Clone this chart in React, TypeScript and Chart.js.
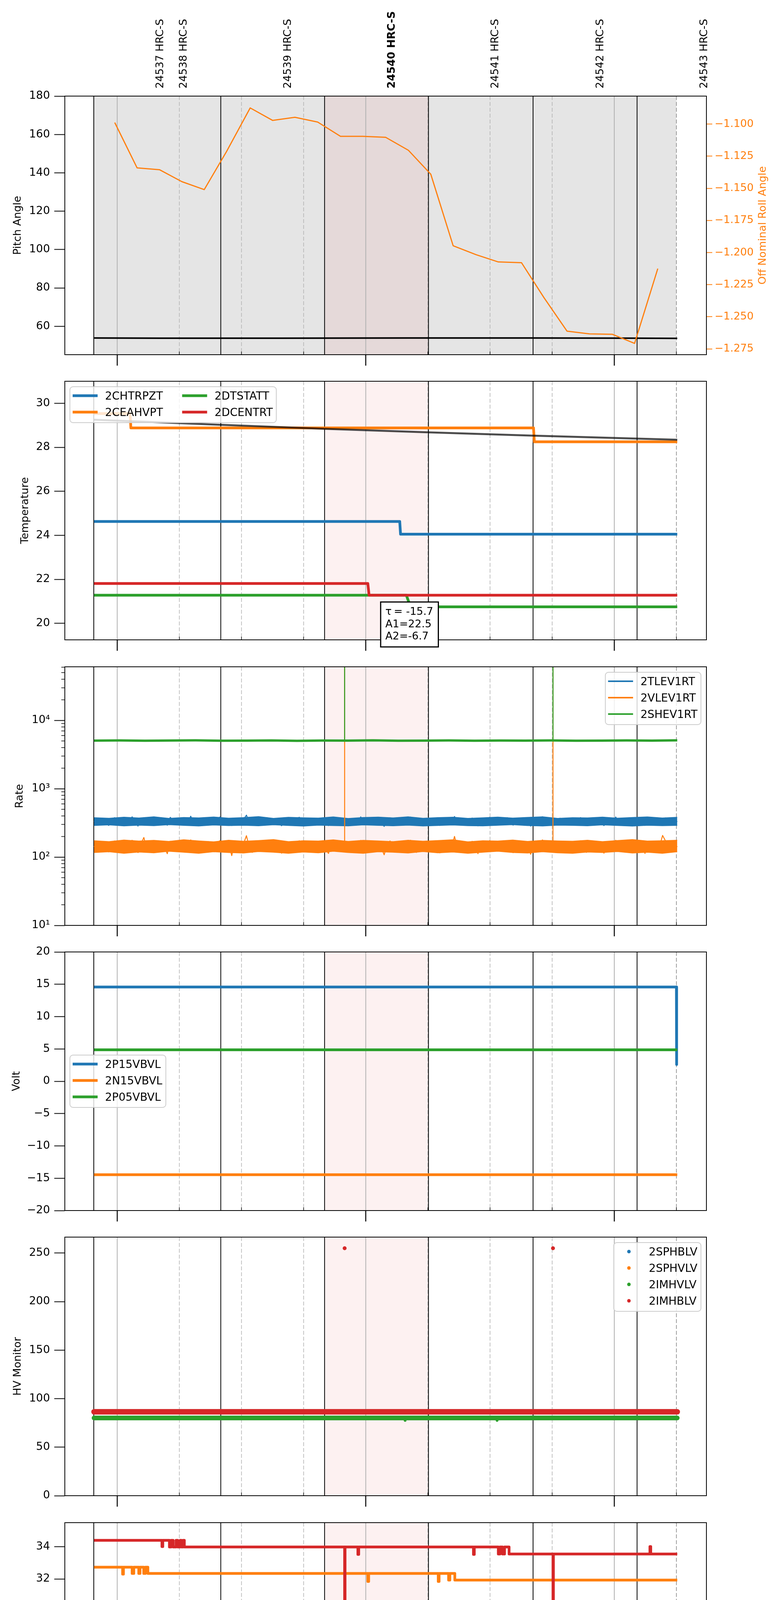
import { useEffect, useRef } from 'react';
import Chart from 'chart.js/auto';

const FONT = 'DejaVu Sans';
const BLUE = '#1f77b4';
const ORANGE = '#ff7f0e';
const GREEN = '#2ca02c';
const RED = '#d62728';

// ---- time axis (minutes after 15:00, 2021-04-04) ----
const X_MIN = -12.65;
const X_MAX = 142.24;
const HOUR_TICKS = [0, 60, 120];
const HOUR_LABELS = ['15h', '16h', '17h'];
const QUARTER_TICKS = [15, 30, 45, 75, 90, 105, 135];
const QUARTER_LABELS = ['15', '30', '45', '15', '30', '45', '15'];
const DATE_LABEL = '2021-04-04 (094)';

// ---- observations ----
const OBSID_LABELS = ['24537 HRC-S', '24538 HRC-S', '24539 HRC-S', '24540 HRC-S', '24541 HRC-S', '24542 HRC-S', '24543 HRC-S'];
const OBSID_LABEL_TIMES = [10.2, 15.8, 41.0, 66.1, 91.1, 116.4, 141.5];
const CURRENT_OBSID = '24540 HRC-S';
const OBSID_STARTS = [-5.66, 25.0, 50.06, 75.14, 100.39, 125.5];
const CURRENT_SPAN = [50.06, 75.14];
const SCHEDULE_SPAN = [-5.66, 135.0];

// ---- panel 1: pitch / roll ----
const PITCH_T = [-5.6, 10, 40, 70, 100, 125.5, 135.2];
const PITCH = [53.9, 53.8, 53.8, 53.9, 53.9, 53.8, 53.7];
const PITCH_TICKS = [60, 80, 100, 120, 140, 160, 180];
const ROLL_T = [-0.6, 4.8, 10.2, 15.6, 21.0, 26.4, 32.1, 37.5, 42.9, 48.4, 53.9, 59.3, 64.8, 70.3, 75.7, 81.1, 86.6, 92.0, 97.6, 103.0, 108.6, 114.0, 119.5, 124.9, 130.5];
const ROLL = [-1.0988, -1.1341, -1.1355, -1.1448, -1.151, -1.1213, -1.0874, -1.0971, -1.0947, -1.0984, -1.1095, -1.1095, -1.1103, -1.1204, -1.139, -1.1947, -1.2016, -1.2073, -1.2079, -1.235, -1.2612, -1.2633, -1.2636, -1.2707, -1.2125];
const ROLL_TICKS = [-1.275, -1.25, -1.225, -1.2, -1.175, -1.15, -1.125, -1.1];

// ---- panel 2: temperature ----
const CHTRPZT_T = [-5.6, 68.2, 68.4, 135.2];
const CHTRPZT = [24.63, 24.63, 24.05, 24.05];
const CEAHVPT_T = [-5.6, 3.1, 3.3, 100.5, 100.7, 135.2];
const CEAHVPT = [29.53, 29.53, 28.88, 28.88, 28.25, 28.25];
const DTSTATT_T = [-5.6, 69.8, 70.8, 135.2];
const DTSTATT = [21.28, 21.28, 20.75, 20.75];
const DCENTRT_T = [-5.6, 60.5, 60.8, 135.2];
const DCENTRT = [21.81, 21.81, 21.28, 21.28];
const FIT_T = [-5.6, 25, 50, 75, 100.4, 135.2];
const FIT = [29.25, 29.02, 28.84, 28.68, 28.53, 28.34];
const FIT_TEXT = ['\u03c4\u2009= -15.7', 'A1=22.5', 'A2=-6.7'];
const FIT_BOX_AT = [70.56, 20.97];
const TEMP_TICKS = [20, 22, 24, 26, 28, 30];

// ---- panel 3: rates (regular samples between RATE_T0 and RATE_T1) ----
const RATE_T0 = -5.6;
const RATE_T1 = 135.2;
const TLEV1RT = [
  330, 352, 301, 368, 315, 290, 344, 377, 322, 298, 361, 335, 309, 388, 327, 284, 349, 366, 318, 296,
  372, 338, 305, 357, 329, 292, 381, 344, 312, 335, 364, 301, 326, 395, 319, 288, 353, 341, 307, 370,
  333, 296, 359, 386, 314, 325, 348, 290, 367, 339, 302, 355, 410, 321, 293, 346, 362, 310, 331, 378,
  299, 342, 357, 316, 287, 369, 334, 305, 351, 327, 383, 312, 296, 345, 365, 322, 301, 338, 374, 309,
  289, 356, 331, 347, 304, 371, 326, 293, 362, 340, 315, 387, 328, 298, 353, 336, 308, 366, 321, 281,
  349, 375, 313, 331, 297, 360, 343, 306, 384, 325, 291, 354, 338, 317, 369, 302, 333, 358, 290, 347,
  363, 311, 329, 392, 318, 295, 350, 336, 304, 372, 341, 286, 356, 327, 314, 381, 332, 299, 361, 345,
  308, 376, 320, 293, 352, 339, 306, 367, 328, 284, 358, 342, 315, 389, 326, 300, 355, 334, 310, 370,
  337, 297, 362, 319, 346, 303, 378, 330, 292, 357, 341, 312, 364, 323, 288, 351, 336, 307, 385, 329,
  296, 359, 344, 316, 371, 302, 333, 348, 290, 366, 327, 311, 354, 339, 301, 374, 320, 345, 305, 335,
];
// dense core of the 2TLEV1RT band
const TLEV1RT_HI = [378, 371, 384, 374, 389, 369, 381, 376, 387, 372, 379, 392, 370, 383, 377, 373, 388, 368, 380, 385, 375, 390, 371, 379, 384, 369, 377, 386, 373, 382, 389, 370, 378, 376, 386, 372, 381, 388, 374, 383];
const TLEV1RT_LO = [289, 294, 285, 292, 287, 296, 290, 284, 293, 288, 291, 286, 295, 289, 283, 292, 288, 285, 294, 290, 286, 292, 284, 289, 293, 287, 285, 291, 296, 288, 284, 292, 290, 286, 294, 289, 283, 291, 287, 290];
const VLEV1RT = [
  141, 158, 126, 167, 133, 119, 150, 172, 138, 124, 161, 145, 129, 176, 140, 116, 155, 193, 134, 121,
  165, 147, 128, 159, 139, 112, 170, 151, 131, 144, 166, 123, 137, 178, 135, 118, 157, 148, 127, 168,
  142, 120, 160, 174, 132, 136, 152, 105, 169, 146, 125, 156, 205, 139, 117, 149, 163, 130, 143, 171,
  122, 150, 158, 134, 114, 166, 141, 128, 154, 137, 173, 131, 119, 148, 165, 138, 124, 145, 169, 129,
  113, 157, 140, 151, 126, 168, 136, 121, 162, 146, 133, 175, 139, 118, 155, 143, 127, 164, 137, 108,
  150, 172, 132, 141, 120, 160, 147, 128, 176, 136, 117, 156, 144, 134, 167, 123, 142, 159, 115, 149,
  163, 130, 140, 200, 135, 119, 153, 145, 126, 170, 148, 112, 158, 138, 131, 174, 141, 122, 162, 150,
  129, 171, 137, 116, 155, 146, 127, 166, 139, 110, 160, 147, 133, 178, 136, 124, 157, 142, 130, 168,
  145, 119, 162, 134, 151, 125, 173, 140, 117, 158, 148, 131, 165, 137, 114, 154, 143, 128, 176, 139,
  120, 161, 149, 133, 170, 123, 141, 152, 113, 167, 138, 130, 156, 146, 207, 172, 134, 150, 127, 144,
];
// dense core of the 2VLEV1RT band
const VLEV1RT_HI = [174, 169, 178, 172, 176, 170, 180, 173, 168, 177, 171, 175, 181, 169, 174, 172, 179, 170, 176, 173, 169, 177, 171, 175, 180, 168, 174, 172, 178, 170, 176, 173, 171, 177, 169, 175, 181, 172, 174, 177];
const VLEV1RT_LO = [116, 119, 113, 118, 115, 121, 117, 113, 119, 116, 114, 120, 117, 113, 118, 115, 121, 116, 113, 119, 117, 114, 120, 115, 118, 113, 117, 121, 116, 114, 119, 115, 113, 118, 116, 120, 114, 117, 113, 119];
const SHEV1RT = [5050, 5080, 5030, 5070, 5100, 5040, 5060, 5090, 5020, 5070, 5050, 5110, 5040, 5060, 5080, 5030, 5070, 5050, 5090, 5040, 5060, 5080, 5050, 5100];
const RATE_SPIKE_T = [54.9, 105.2];
const RATE_SPIKE_TOP = 65000;
const RATE_TICKS = [10, 100, 1000, 10000];
const RATE_TICK_LABELS = ['10\u00b9', '10\u00b2', '10\u00b3', '10\u2074'];

// ---- panel 4: volts ----
const P15VBVL_T = [-5.6, 135.0, 135.05];
const P15VBVL = [14.57, 14.57, 2.6];
const N15VBVL_T = [-5.6, 135.2];
const N15VBVL = [-14.46, -14.46];
const P05VBVL_T = [-5.6, 135.2];
const P05VBVL = [4.86, 4.86];
const VOLT_TICKS = [-20, -15, -10, -5, 0, 5, 10, 15, 20];

// ---- panel 5: HV monitor ----
const HV_T = [-5.6, 135.2];
const SPHBLV = [86.4, 86.4];
const SPHVLV = [86.4, 86.4];
const IMHVLV = [80.1, 80.1];
const IMHBLV = [86.4, 86.4];
const IMHVLV_OUT_T = [69.5, 91.7];
const IMHVLV_OUT = [77.6, 77.6];
const IMHBLV_OUT_T = [54.9, 105.2];
const IMHBLV_OUT = [254.9, 254.9];
const HV_TICKS = [0, 50, 100, 150, 200, 250];

// ---- panel 6: detector temps (each value holds until the next time) ----
const SPINATM_T = [-5.6, 94.6, 94.8, 98.9, 99.4, 99.8, 100.6, 101.0, 101.6, 102.0, 102.8, 103.3, 135.2];
const SPINATM = [20.99, 20.3, 20.99, 20.3, 20.99, 20.3, 20.99, 20.3, 20.99, 20.3, 20.99, 20.3, 20.3];
const SPHVATM_T = [-5.6, 1.3, 1.5, 3.6, 4.0, 5.2, 5.5, 6.4, 6.8, 7.4, 60.5, 60.7, 77.5, 77.7, 80.0, 80.3, 81.5, 135.2];
const SPHVATM = [32.73, 32.3, 32.73, 32.34, 32.73, 32.34, 32.73, 32.34, 32.73, 32.34, 31.85, 32.34, 31.85, 32.34, 31.93, 32.34, 31.93, 31.93];
const IMINATM_T = [-5.6, 64.1, 64.6, 65.8, 66.0, 66.7, 135.2];
const IMINATM = [21.71, 20.99, 21.71, 20.99, 21.71, 20.99, 20.99];
const IMHVATM_T = [-5.6, 10.8, 11.0, 12.6, 13.0, 13.5, 14.2, 14.6, 15.2, 15.5, 15.9, 16.2, 54.9, 55.0, 58.1, 58.3, 86.0, 86.2, 92.0, 92.4, 93.0, 93.5, 94.6, 105.2, 105.3, 128.6, 128.8, 135.2];
const IMHVATM = [34.39, 34.0, 34.39, 33.98, 34.39, 33.98, 34.39, 33.98, 34.39, 33.98, 34.39, 33.98, 10, 33.98, 33.52, 33.98, 33.52, 33.98, 33.54, 33.98, 33.54, 33.98, 33.54, 10, 33.54, 34.0, 33.54, 33.54];
const DET_TICKS = [20, 22, 24, 26, 28, 30, 32, 34];

// ---- panel 7: FEA temps (each value holds until the next time) ----
const FHTRMZT_T = [-5.6, 68.9, 69.2, 69.8, 70.1, 70.9, 135.2];
const FHTRMZT = [22.36, 21.81, 22.36, 21.81, 22.36, 21.81, 21.81];
const FRADPYT_T = [-5.6, 28.6, 125.0, 135.2];
const FRADPYT = [17.16, 16.69, 16.2, 16.2];
const FEPRATM_T = [-5.6, 3.2, 3.5, 4.2, 4.5, 5.1, 5.4, 5.75, 54.9, 55.0, 105.2, 105.3, 135.2];
const FEPRATM = [24.63, 23.87, 24.63, 23.87, 24.63, 23.87, 24.63, 23.87, 22.05, 23.87, 22.05, 23.87, 23.87];
const FE00ATM_T = [-5.6, 20.3, 20.5, 28.6, 28.8, 34.8, 35.0, 38.5, 39.0, 39.6, 40.2, 41.0, 45.7, 45.9, 46.5, 46.7, 50.0, 50.2, 54.9, 55.0, 67.8, 68.0, 68.6, 68.8, 69.2, 69.4, 87.5, 87.7, 89.0, 89.2, 105.2, 105.3, 109.4, 110.0, 110.5, 111.2, 112.2, 116.4, 116.6, 129.7, 129.9, 135.2];
const FE00ATM = [22.32, 21.95, 22.32, 22.7, 22.32, 22.7, 22.32, 22.02, 22.32, 22.02, 22.32, 22.02, 23.34, 22.02, 22.35, 22.02, 22.35, 22.02, 10, 22.02, 21.37, 22.02, 22.4, 22.02, 21.65, 22.02, 21.65, 22.02, 21.65, 22.02, 10, 22.02, 21.72, 22.02, 21.72, 22.02, 21.72, 22.4, 21.72, 22.05, 21.72, 21.72];
const FEA_TICKS = [16, 18, 20, 22, 24];

// ---- page layout ----
const PAGE_W = 2000;
const PAGE_H = 5400;
const PANEL_TOPS = [246, 976, 1707, 2437, 3167, 3898, 4628];
const PANEL_H = 662;
const PLOT_LEFT = 166;
const PLOT_RIGHT = 1809;

const geom = (k: number) => {
  const top = PANEL_TOPS[k];
  const cTop = k === 0 ? 0 : top - 60;
  const padT = top - cTop;
  const padB = k === PANEL_TOPS.length - 1 ? PAGE_H - top - PANEL_H : 72;
  return { cTop, padT, padB, h: padT + PANEL_H + padB };
};

const minus = (v: number) => (v < 0 ? '\u2212' + String(-v) : String(v));

const line = (label: string, color: string, times: number[], values: number[], width: number, extra: any = {}) => ({
  label,
  data: times.map((t, i) => ({ x: t, y: values[i] })),
  borderColor: color,
  backgroundColor: color,
  borderWidth: width,
  pointRadius: 0,
  borderJoinStyle: 'round',
  clip: 0,
  ...extra,
});

const spikes = (label: string, color: string, times: number[], base: number, top: number, width: number) => ({
  label,
  data: times.flatMap((t) => [{ x: t, y: base }, { x: t, y: top }, { x: t, y: null }]),
  borderColor: color,
  borderWidth: width,
  pointRadius: 0,
  spanGaps: false,
  clip: 0,
});

const dots = (label: string, color: string, times: number[], values: number[], r: number) => ({
  label,
  data: times.map((t, i) => ({ x: t, y: values[i] })),
  showLine: false,
  pointRadius: r,
  pointBorderWidth: 0,
  pointBackgroundColor: color,
  borderColor: color,
  backgroundColor: color,
  clip: 0,
});

const sampleTimes = (n: number) => Array.from({ length: n }, (_, i) => RATE_T0 + (i * (RATE_T1 - RATE_T0)) / (n - 1));

const yAxis = (o: any) => ({
  type: o.type || 'linear',
  position: 'left',
  min: o.min,
  max: o.max,
  afterFit: (s: any) => { s.width = PLOT_LEFT; },
  afterBuildTicks: (s: any) => { s.ticks = o.ticks.map((v: number) => ({ value: v })); },
  ticks: { color: '#000', font: { family: FONT, size: 28 }, padding: 11, autoSkip: false, callback: o.fmt || ((v: number) => minus(v)) },
  grid: { drawOnChartArea: false, drawTicks: true, tickLength: 27, tickWidth: 2, tickColor: '#000' },
  border: { display: false },
  title: { display: true, text: o.title, color: '#000', font: { family: FONT, size: 27 }, padding: { top: o.titlePad, bottom: 0 } },
});

type LegendItem = { label: string; color: string; dot?: boolean };
type LegendSpec = { items: LegendItem[]; cols: number; side: 'left' | 'right'; valign: 'top' | 'center'; lw: number };

function drawLegend(ctx: CanvasRenderingContext2D, a: any, spec: LegendSpec) {
  const HANDLE = 64, PADL = 7, GAP = 19, PADR = 9, COLSEP = 49, ROWH = 42, FS = 28;
  ctx.font = `${FS}px "${FONT}"`;
  const rows = Math.ceil(spec.items.length / spec.cols);
  const colW: number[] = [];
  for (let c = 0; c < spec.cols; c++) {
    const its = spec.items.slice(c * rows, (c + 1) * rows);
    colW.push(Math.max(...its.map((it) => ctx.measureText(it.label).width)));
  }
  const width = PADL + colW.reduce((s, w) => s + HANDLE + GAP + w, 0) + (spec.cols - 1) * COLSEP + PADR;
  const height = 50 + (rows - 1) * ROWH;
  const left = spec.side === 'left' ? a.left + 13 : a.right - 14 - width;
  const top = spec.valign === 'top' ? a.top + 14 : (a.top + a.bottom - height) / 2;
  ctx.beginPath();
  ctx.roundRect(left, top, width, height, 8);
  ctx.fillStyle = 'rgba(255,255,255,0.8)';
  ctx.fill();
  ctx.strokeStyle = '#cccccc';
  ctx.lineWidth = 2;
  ctx.stroke();
  let cx = left + PADL;
  for (let c = 0; c < spec.cols; c++) {
    for (let r = 0; r < rows; r++) {
      const it = spec.items[c * rows + r];
      if (!it) continue;
      const y = top + 23 + r * ROWH;
      if (it.dot) {
        ctx.beginPath();
        ctx.arc(cx + HANDLE / 2, y, 4.5, 0, Math.PI * 2);
        ctx.fillStyle = it.color;
        ctx.fill();
      } else {
        ctx.beginPath();
        ctx.moveTo(cx, y);
        ctx.lineTo(cx + HANDLE, y);
        ctx.strokeStyle = it.color;
        ctx.lineWidth = spec.lw;
        ctx.lineCap = 'butt';
        ctx.stroke();
      }
      ctx.fillStyle = '#000';
      ctx.textAlign = 'left';
      ctx.textBaseline = 'alphabetic';
      ctx.fillText(it.label, cx + HANDLE + GAP, y + 0.365 * FS);
    }
    cx += HANDLE + GAP + colW[c] + COLSEP;
  }
}

function makeDecor(k: number, legend: LegendSpec | null) {
  const last = PANEL_TOPS.length - 1;
  return {
    id: 'decor' + k,
    beforeDatasetsDraw(chart: any) {
      const { ctx, chartArea: a } = chart;
      const px = (t: number) => chart.scales.x.getPixelForValue(t);
      ctx.save();
      ctx.beginPath();
      ctx.rect(a.left, a.top, a.right - a.left, a.bottom - a.top);
      ctx.clip();
      if (k === 0) {
        ctx.fillStyle = 'rgba(0,0,0,0.1)';
        ctx.fillRect(px(SCHEDULE_SPAN[0]), a.top, px(SCHEDULE_SPAN[1]) - px(SCHEDULE_SPAN[0]), a.bottom - a.top);
      }
      ctx.fillStyle = 'rgba(230,60,60,0.07)';
      ctx.fillRect(px(CURRENT_SPAN[0]), a.top, px(CURRENT_SPAN[1]) - px(CURRENT_SPAN[0]), a.bottom - a.top);
      const vline = (t: number, color: string, w: number, dash: number[]) => {
        ctx.beginPath();
        ctx.setLineDash(dash);
        ctx.strokeStyle = color;
        ctx.lineWidth = w;
        ctx.moveTo(px(t), a.top);
        ctx.lineTo(px(t), a.bottom);
        ctx.stroke();
      };
      HOUR_TICKS.forEach((t) => vline(t, '#b0b0b0', 2, []));
      QUARTER_TICKS.forEach((t) => vline(t, t === 135 ? '#808080' : '#b0b0b0', 1.5, [10, 5]));
      OBSID_STARTS.forEach((t) => vline(t, '#000', 2, []));
      ctx.restore();
    },
    afterDatasetsDraw(chart: any) {
      const { ctx, chartArea: a } = chart;
      const px = (t: number) => chart.scales.x.getPixelForValue(t);
      ctx.save();
      ctx.setLineDash([]);
      // frame
      ctx.strokeStyle = '#000';
      ctx.lineWidth = 2;
      ctx.strokeRect(a.left, a.top, a.right - a.left, a.bottom - a.top);
      // time ticks
      ctx.beginPath();
      ctx.lineWidth = 2.5;
      HOUR_TICKS.forEach((t) => { ctx.moveTo(px(t), a.bottom); ctx.lineTo(px(t), a.bottom + 28); });
      ctx.stroke();
      ctx.beginPath();
      ctx.lineWidth = 1.5;
      QUARTER_TICKS.forEach((t) => { ctx.moveTo(px(t), a.bottom); ctx.lineTo(px(t), a.bottom - 8); });
      ctx.stroke();
      ctx.fillStyle = '#000';
      ctx.textBaseline = 'alphabetic';
      if (k === last) {
        ctx.textAlign = 'center';
        ctx.font = `17px "${FONT}"`;
        QUARTER_TICKS.forEach((t, i) => ctx.fillText(QUARTER_LABELS[i], px(t), a.bottom + 22));
        ctx.font = `29px "${FONT}"`;
        HOUR_TICKS.forEach((t, i) => ctx.fillText(HOUR_LABELS[i], px(t), a.bottom + 60));
        ctx.font = `33px "${FONT}"`;
        ctx.fillText(DATE_LABEL, (a.left + a.right) / 2, a.bottom + 100);
      }
      if (k === 0) {
        OBSID_LABELS.forEach((lab, i) => {
          ctx.save();
          ctx.translate(px(OBSID_LABEL_TIMES[i]), a.top - 19.6);
          ctx.rotate(-Math.PI / 2);
          ctx.font = `${lab === CURRENT_OBSID ? 'bold ' : ''}27px "${FONT}"`;
          ctx.textAlign = 'left';
          ctx.fillStyle = '#000';
          ctx.fillText(lab, 0, 0.365 * 27);
          ctx.restore();
        });
        ctx.save();
        ctx.translate(1954, (a.top + a.bottom) / 2);
        ctx.rotate(-Math.PI / 2);
        ctx.font = `27px "${FONT}"`;
        ctx.textAlign = 'center';
        ctx.textBaseline = 'middle';
        ctx.fillStyle = ORANGE;
        ctx.fillText('Off Nominal Roll Angle', 0, 0);
        ctx.restore();
      }
      if (k === 2) {
        const y = chart.scales.y;
        ctx.beginPath();
        ctx.lineWidth = 1.5;
        for (let d = 1; d <= 4; d++) {
          for (let m = 2; m <= 9; m++) {
            const v = m * Math.pow(10, d);
            if (v > y.max) continue;
            const py = y.getPixelForValue(v);
            ctx.moveTo(a.left - 9, py);
            ctx.lineTo(a.left, py);
          }
        }
        ctx.stroke();
      }
      if (k === 1) {
        const fs = 27;
        ctx.font = `${fs}px "${FONT}"`;
        const tw = Math.max(...FIT_TEXT.map((s) => ctx.measureText(s).width));
        const w = tw + 25;
        const h = 115;
        const bx = px(FIT_BOX_AT[0]) - w / 2;
        const by = chart.scales.y.getPixelForValue(FIT_BOX_AT[1]);
        ctx.fillStyle = '#fff';
        ctx.fillRect(bx, by, w, h);
        ctx.strokeStyle = '#000';
        ctx.lineWidth = 3;
        ctx.strokeRect(bx, by, w, h);
        ctx.fillStyle = '#000';
        ctx.textAlign = 'left';
        FIT_TEXT.forEach((s, i) => ctx.fillText(s, bx + 12, by + 33 + i * 31.7));
      }
      if (legend) drawLegend(ctx, a, legend);
      ctx.restore();
    },
  };
}

function config(k: number, datasets: any[], scales: any, legend: LegendSpec | null) {
  const g = geom(k);
  return {
    type: 'line',
    data: { datasets: datasets.map((d, i) => ({ fill: false, ...d, order: -i })) },
    options: {
      animation: false,
      responsive: false,
      devicePixelRatio: 1,
      events: [],
      layout: { padding: { top: g.padT, bottom: g.padB, left: 0, right: scales.y2 ? 0 : PAGE_W - PLOT_RIGHT } },
      plugins: { legend: { display: false }, tooltip: { enabled: false } },
      scales: { x: { type: 'linear', min: X_MIN, max: X_MAX, display: false }, ...scales },
    },
    plugins: [makeDecor(k, legend)],
  };
}

const BUILDERS = [
  (k: number) =>
    config(
      k,
      [
        line('Pitch', '#000', PITCH_T, PITCH, 4),
        line('Roll', ORANGE, ROLL_T, ROLL, 3, { yAxisID: 'y2' }),
      ],
      {
        y: yAxis({ min: 45.2, max: 180, ticks: PITCH_TICKS, title: 'Pitch Angle', titlePad: 30 }),
        y2: {
          type: 'linear',
          position: 'right',
          min: -1.2795,
          max: -1.0782,
          afterFit: (s: any) => { s.width = PAGE_W - PLOT_RIGHT; },
          afterBuildTicks: (s: any) => { s.ticks = ROLL_TICKS.map((v) => ({ value: v })); },
          ticks: { color: ORANGE, font: { family: FONT, size: 27 }, padding: 6, autoSkip: false, callback: (v: number) => '\u2212' + (-v).toFixed(3) },
          grid: { drawOnChartArea: false, drawTicks: true, tickLength: 15, tickWidth: 2, tickColor: ORANGE },
          border: { display: false },
        },
      },
      null,
    ),
  (k: number) =>
    config(
      k,
      [
        line('2CHTRPZT', BLUE, CHTRPZT_T, CHTRPZT, 7),
        line('2CEAHVPT', ORANGE, CEAHVPT_T, CEAHVPT, 7),
        line('2DTSTATT', GREEN, DTSTATT_T, DTSTATT, 7),
        line('2DCENTRT', RED, DCENTRT_T, DCENTRT, 7),
        line('fit', 'rgba(0,0,0,0.7)', FIT_T, FIT, 5),
      ],
      { y: yAxis({ min: 19.25, max: 31.0, ticks: TEMP_TICKS, title: 'Temperature', titlePad: 49 }) },
      {
        items: [
          { label: '2CHTRPZT', color: BLUE },
          { label: '2CEAHVPT', color: ORANGE },
          { label: '2DTSTATT', color: GREEN },
          { label: '2DCENTRT', color: RED },
        ],
        cols: 2, side: 'left', valign: 'top', lw: 7,
      },
    ),
  (k: number) =>
    config(
      k,
      [
        line('2TLEV1RT hi', BLUE, sampleTimes(TLEV1RT_HI.length), TLEV1RT_HI, 1.5, { fill: '+1' }),
        line('2TLEV1RT lo', BLUE, sampleTimes(TLEV1RT_LO.length), TLEV1RT_LO, 1.5),
        line('2TLEV1RT', BLUE, sampleTimes(TLEV1RT.length), TLEV1RT, 2.5),
        line('2VLEV1RT hi', ORANGE, sampleTimes(VLEV1RT_HI.length), VLEV1RT_HI, 1.5, { fill: '+1' }),
        line('2VLEV1RT lo', ORANGE, sampleTimes(VLEV1RT_LO.length), VLEV1RT_LO, 1.5),
        line('2VLEV1RT', ORANGE, sampleTimes(VLEV1RT.length), VLEV1RT, 2.5),
        spikes('2VLEV1RT spikes', ORANGE, RATE_SPIKE_T, 144, RATE_SPIKE_TOP, 2.5),
        line('2SHEV1RT', GREEN, sampleTimes(SHEV1RT.length), SHEV1RT, 6),
        spikes('2SHEV1RT spikes', GREEN, RATE_SPIKE_T, 5050, RATE_SPIKE_TOP, 2.5),
      ],
      {
        y: yAxis({
          type: 'logarithmic', min: 10, max: 60800, ticks: RATE_TICKS, title: 'Rate', titlePad: 35,
          fmt: (v: number) => RATE_TICK_LABELS[RATE_TICKS.indexOf(Math.round(v))] || '',
        }),
      },
      {
        items: [
          { label: '2TLEV1RT', color: BLUE },
          { label: '2VLEV1RT', color: ORANGE },
          { label: '2SHEV1RT', color: GREEN },
        ],
        cols: 1, side: 'right', valign: 'top', lw: 4,
      },
    ),
  (k: number) =>
    config(
      k,
      [
        line('2P15VBVL', BLUE, P15VBVL_T, P15VBVL, 7),
        line('2N15VBVL', ORANGE, N15VBVL_T, N15VBVL, 7),
        line('2P05VBVL', GREEN, P05VBVL_T, P05VBVL, 7),
      ],
      { y: yAxis({ min: -20, max: 20, ticks: VOLT_TICKS, title: 'Volt', titlePad: 26.5 }) },
      {
        items: [
          { label: '2P15VBVL', color: BLUE },
          { label: '2N15VBVL', color: ORANGE },
          { label: '2P05VBVL', color: GREEN },
        ],
        cols: 1, side: 'left', valign: 'center', lw: 7,
      },
    ),
  (k: number) =>
    config(
      k,
      [
        line('2SPHBLV', BLUE, HV_T, SPHBLV, 13, { borderCapStyle: 'round' }),
        line('2SPHVLV', ORANGE, HV_T, SPHVLV, 13, { borderCapStyle: 'round' }),
        line('2IMHVLV', GREEN, HV_T, IMHVLV, 12, { borderCapStyle: 'round' }),
        dots('2IMHVLV out', GREEN, IMHVLV_OUT_T, IMHVLV_OUT, 3.5),
        line('2IMHBLV', RED, HV_T, IMHBLV, 14, { borderCapStyle: 'round' }),
        dots('2IMHBLV out', RED, IMHBLV_OUT_T, IMHBLV_OUT, 5),
      ],
      { y: yAxis({ min: 0, max: 266.4, ticks: HV_TICKS, title: 'HV Monitor', titlePad: 30 }) },
      {
        items: [
          { label: '2SPHBLV', color: BLUE, dot: true },
          { label: '2SPHVLV', color: ORANGE, dot: true },
          { label: '2IMHVLV', color: GREEN, dot: true },
          { label: '2IMHBLV', color: RED, dot: true },
        ],
        cols: 1, side: 'right', valign: 'top', lw: 7,
      },
    ),
  (k: number) =>
    config(
      k,
      [
        line('2SPINATM', BLUE, SPINATM_T, SPINATM, 7, { stepped: 'before' }),
        line('2SPHVATM', ORANGE, SPHVATM_T, SPHVATM, 7, { stepped: 'before' }),
        line('2IMINATM', GREEN, IMINATM_T, IMINATM, 7, { stepped: 'before' }),
        line('2IMHVATM', RED, IMHVATM_T, IMHVATM, 7, { stepped: 'before' }),
      ],
      { y: yAxis({ min: 19.5, max: 35.48, ticks: DET_TICKS, title: 'Detector Temp', titlePad: 49 }) },
      {
        items: [
          { label: '2SPINATM', color: BLUE },
          { label: '2SPHVATM', color: ORANGE },
          { label: '2IMINATM', color: GREEN },
          { label: '2IMHVATM', color: RED },
        ],
        cols: 1, side: 'right', valign: 'center', lw: 7,
      },
    ),
  (k: number) =>
    config(
      k,
      [
        line('2FHTRMZT', BLUE, FHTRMZT_T, FHTRMZT, 7, { stepped: 'before' }),
        line('2FRADPYT', ORANGE, FRADPYT_T, FRADPYT, 7, { stepped: 'before' }),
        line('2FEPRATM', GREEN, FEPRATM_T, FEPRATM, 7, { stepped: 'before' }),
        line('2FE00ATM', RED, FE00ATM_T, FE00ATM, 7, { stepped: 'before' }),
      ],
      { y: yAxis({ min: 15.19, max: 25.39, ticks: FEA_TICKS, title: 'FEA Temp', titlePad: 49 }) },
      {
        items: [
          { label: '2FHTRMZT', color: BLUE },
          { label: '2FRADPYT', color: ORANGE },
          { label: '2FEPRATM', color: GREEN },
          { label: '2FE00ATM', color: RED },
        ],
        cols: 1, side: 'right', valign: 'center', lw: 7,
      },
    ),
];

const App = () => {
  const canvasRefs = useRef<(HTMLCanvasElement | null)[]>([]);

  useEffect(() => {
    Chart.defaults.font.family = FONT;
    Chart.defaults.color = '#000';
    const charts = BUILDERS.map((build, k) => {
      const canvas = canvasRefs.current[k];
      if (!canvas) return null;
      return new Chart(canvas, build(k) as any);
    });
    return () => {
      charts.forEach((c) => c && c.destroy());
    };
  }, []);

  return (
    <div style={{ position: 'absolute', left: 0, top: 0, width: PAGE_W, height: PAGE_H, background: '#fff' }}>
      {PANEL_TOPS.map((_, k) => {
        const g = geom(k);
        return (
          <canvas
            key={k}
            ref={(el) => { canvasRefs.current[k] = el; }}
            width={PAGE_W}
            height={g.h}
            style={{ position: 'absolute', left: 0, top: g.cTop, width: PAGE_W, height: g.h }}
          />
        );
      })}
    </div>
  );
};

export default App;
